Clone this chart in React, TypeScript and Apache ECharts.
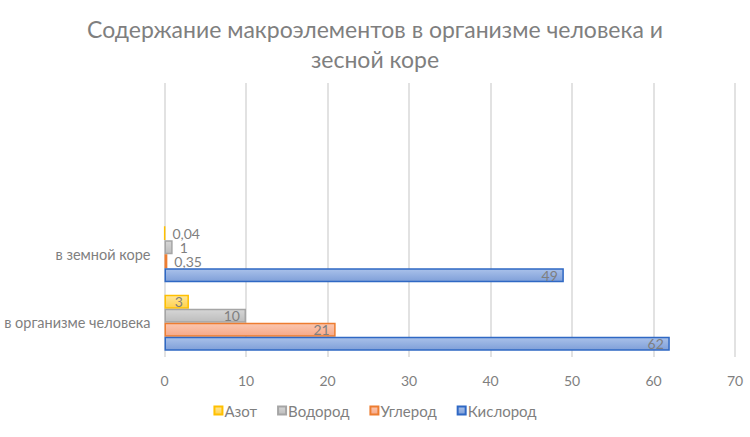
import { useEffect, useRef } from "react";
import * as echarts from "echarts";

const categories = ["в организме человека", "в земной коре", " ", "  "];
const seriesNames = ["Азот", "Водород", "Углерод", "Кислород"];
const nitrogen = [3, 0.04];
const hydrogen = [10, 1];
const carbon = [21, 0.35];
const oxygen = [62, 49];
const xTicks = [0, 10, 20, 30, 40, 50, 60, 70];

const palette = [
  { top: "#ffe699", bottom: "#ffd24d", border: "#ffc000" },
  { top: "#d6d6d6", bottom: "#bdbdbd", border: "#a5a5a5" },
  { top: "#fbc7b0", bottom: "#f6a989", border: "#ed7d31" },
  { top: "#a9c1ea", bottom: "#7f9fd8", border: "#2f68c4" },
];

const font = "Lato, 'Open Sans', sans-serif";
const grey = "#7f7f7f";

export default function App() {
  const ref = useRef<HTMLDivElement>(null);
  useEffect(() => {
    if (!ref.current) return;
    const chart = echarts.init(ref.current, undefined, { renderer: "svg" });
    const values = [nitrogen, hydrogen, carbon, oxygen];
    const series = seriesNames.map((name, i) => ({
      name,
      type: "bar",
      barGap: "0%",
      barCategoryGap: "18%",
      itemStyle: {
        color: new echarts.graphic.LinearGradient(0, 0, 0, 1, [
          { offset: 0, color: palette[i].top },
          { offset: 1, color: palette[i].bottom },
        ]),
        borderColor: palette[i].border,
        borderWidth: 1.5,
      },
      // small values don't fit inside the bar, put their label after it
      data: values[i].map((v) => ({
        value: v,
        label: {
          show: true,
          position: v >= 3 ? "insideRight" : "right",
          distance: v >= 3 ? 6 : 7,
        },
      })),
      label: {
        color: grey,
        fontFamily: font,
        fontSize: 14,
        lineHeight: 12,
        formatter: (p: any) => String(p.value).replace(".", ","),
      },
    }));
    chart.setOption({
      animation: false,
      backgroundColor: "#ffffff",
      title: {
        text: "Содержание макроэлементов в организме человека и\nзесной коре",
        left: "center",
        top: 9,
        textStyle: {
          color: grey,
          fontFamily: font,
          fontSize: 23,
          fontWeight: "normal",
          lineHeight: 30,
        },
      },
      legend: {
        bottom: 14,
        left: "center",
        itemWidth: 8,
        itemHeight: 8,
        itemGap: 20,
        icon: "rect",
        textStyle: {
          color: grey,
          fontFamily: font,
          fontSize: 15,
          padding: [0, 0, 0, -3],
        },
        data: seriesNames,
      },
      grid: { left: 164.5, right: 15, top: 83, bottom: 80, containLabel: false },
      xAxis: {
        type: "value",
        min: xTicks[0],
        max: xTicks[xTicks.length - 1],
        interval: 10,
        axisLine: { show: false },
        axisTick: { show: false },
        axisLabel: { color: grey, fontFamily: font, fontSize: 14, margin: 16 },
        splitLine: { lineStyle: { color: "#d9d9d9", width: 1.5 } },
      },
      yAxis: {
        type: "category",
        data: categories,
        axisLine: { show: false },
        axisTick: { show: false },
        axisLabel: { color: grey, fontFamily: font, fontSize: 14.5, margin: 14 },
      },
      series,
    } as echarts.EChartsOption);
    return () => chart.dispose();
  }, []);
  return (
    <div
      ref={ref}
      style={{ position: "fixed", left: 0, top: 0, width: 750, height: 437 }}
    />
  );
}
